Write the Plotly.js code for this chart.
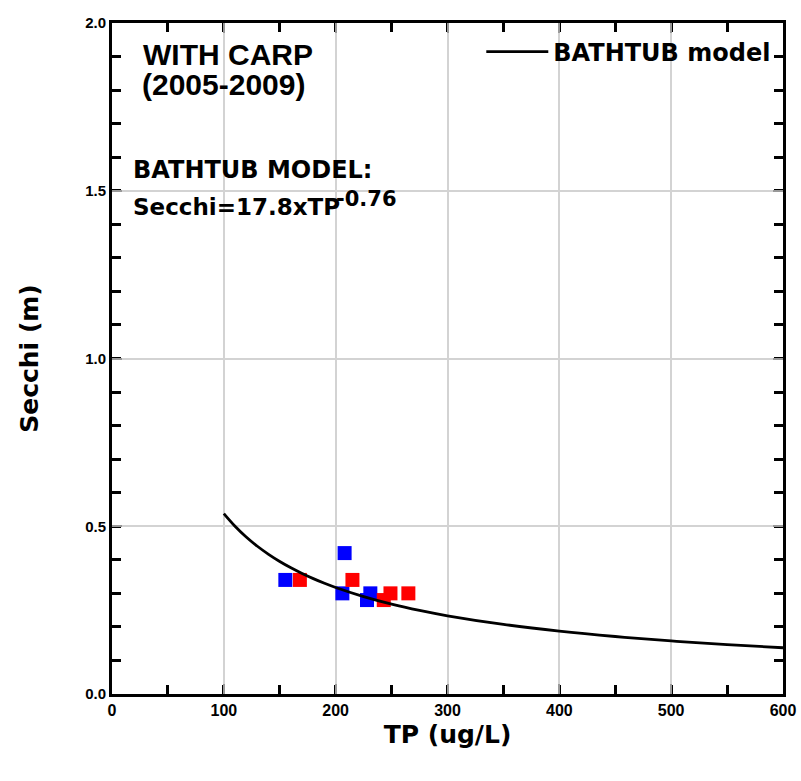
<!DOCTYPE html>
<html>
<head>
<meta charset="utf-8">
<script src="https://cdn.plot.ly/plotly-3.0.1.min.js"></script>
<style>html,body{margin:0;padding:0;background:#fff;}#chart{width:801px;height:781px;}</style>
</head>
<body>
<div id="chart"></div>
<script>
// BATHTUB model curve: Secchi = 17.8 x TP^-0.76 (values tabulated)
const modelTP = [100, 110, 120, 130, 140, 150, 160, 170, 180, 190, 200, 225, 250, 275, 300, 350, 400, 450, 500, 550, 600];
const modelSecchi = [0.5376, 0.5000, 0.4680, 0.4404, 0.4163, 0.3950, 0.3761, 0.3592, 0.3439, 0.3300, 0.3174, 0.2903, 0.2679, 0.2492, 0.2332, 0.2075, 0.1874, 0.1714, 0.1582, 0.1471, 0.1378];

// Observed points (blue series)
const blueTP = [155, 208, 206, 231, 228];
const blueSecchi = [0.34, 0.42, 0.30, 0.30, 0.28];

// Observed points (red series)
const redTP = [168, 215, 243, 249, 265];
const redSecchi = [0.34, 0.34, 0.28, 0.30, 0.30];

const xTickVals = [0, 100, 200, 300, 400, 500, 600];
const xTickText = ['0', '100', '200', '300', '400', '500', '600'];
const yTickVals = [0, 0.5, 1.0, 1.5, 2.0];
const yTickText = ['0.0', '0.5', '1.0', '1.5', '2.0'];

const FONT = 'DejaVu Sans, Liberation Sans, Arial, sans-serif';
const ARIAL = 'Liberation Sans, Arial, sans-serif';
const bf = (size, fam) => ({family: fam || FONT, size: size, weight: 'bold', color: '#000'});

const traces = [
  {x: blueTP, y: blueSecchi, type: 'scatter', mode: 'markers', showlegend: false,
   marker: {symbol: 'square', size: 14, color: '#0000ff', line: {width: 0}}},
  {x: redTP, y: redSecchi, type: 'scatter', mode: 'markers', showlegend: false,
   marker: {symbol: 'square', size: 14, color: '#ff0000', line: {width: 0}}},
  {x: modelTP, y: modelSecchi, type: 'scatter', mode: 'lines', name: 'BATHTUB model',
   line: {color: '#000', width: 2.8, shape: 'spline'}}
];

function axis(extra) {
  return Object.assign({
    showline: true, linecolor: '#000', linewidth: 3, mirror: 'allticks',
    ticks: 'inside', ticklen: 10, tickwidth: 2, tickcolor: '#999',
    showgrid: true, gridcolor: '#d3d3d3', gridwidth: 2, zeroline: false
  }, extra);
}

const P = (px) => (px - 112) / 671;       // paper x from pixel
const Q = (py) => (694 - py) / 671;       // paper y from pixel

const layout = {
  width: 801, height: 781,
  margin: {l: 112, r: 18, t: 23, b: 87},
  paper_bgcolor: '#fff', plot_bgcolor: '#fff',
  font: {family: FONT, color: '#000', size: 14, weight: 'bold'},
  xaxis: axis({
    range: [0, 600], tickmode: 'array', tickvals: xTickVals, ticktext: xTickText.map(t => '<b>' + t + '</b>'),
    tickfont: bf(16, ARIAL),
    minor: {dtick: 50, ticks: 'inside', ticklen: 9, tickwidth: 3, tickcolor: '#000', showgrid: false},
    title: {text: '<b>TP (ug/L)</b>', font: bf(25), standoff: 8}
  }),
  yaxis: axis({
    range: [0, 2.0], tickmode: 'array', tickvals: yTickVals, ticktext: yTickText.map(t => '<b>' + t + '</b>'),
    tickfont: bf(15, ARIAL),
    minor: {dtick: 0.1, ticks: 'inside', ticklen: 9, tickwidth: 3, tickcolor: '#000', showgrid: false},
    title: {text: '<b>Secchi (m)</b>', font: bf(25), standoff: 40}
  }),
  legend: {
    x: 0.99, y: Q(52), xanchor: 'right', yanchor: 'middle',
    bgcolor: 'rgba(0,0,0,0)', borderwidth: 0, itemwidth: 62,
    font: bf(24)
  },
  annotations: [
    {xref: 'paper', yref: 'paper', x: P(141), y: Q(55), xanchor: 'left', yanchor: 'middle', showarrow: false,
     text: '<b>WITH CARP</b>', font: bf(30, ARIAL)},
    {xref: 'paper', yref: 'paper', x: P(140), y: Q(84), xanchor: 'left', yanchor: 'middle', showarrow: false,
     text: '<b>(2005-2009)</b>', font: bf(30, ARIAL)},
    {xref: 'paper', yref: 'paper', x: P(131), y: Q(170), xanchor: 'left', yanchor: 'middle', showarrow: false,
     text: '<b>BATHTUB MODEL:</b>', font: bf(24)},
    {xref: 'paper', yref: 'paper', x: P(131), y: Q(207), xanchor: 'left', yanchor: 'middle', showarrow: false,
     text: '<b>Secchi=17.8xTP</b>', font: bf(23)},
    {xref: 'paper', yref: 'paper', x: P(334), y: Q(199), xanchor: 'left', yanchor: 'middle', showarrow: false,
     text: '<b>-0.76</b>', font: bf(21)}
  ]
};

Plotly.newPlot('chart', traces, layout, {displayModeBar: false, staticPlot: true});
</script>
</body>
</html>
